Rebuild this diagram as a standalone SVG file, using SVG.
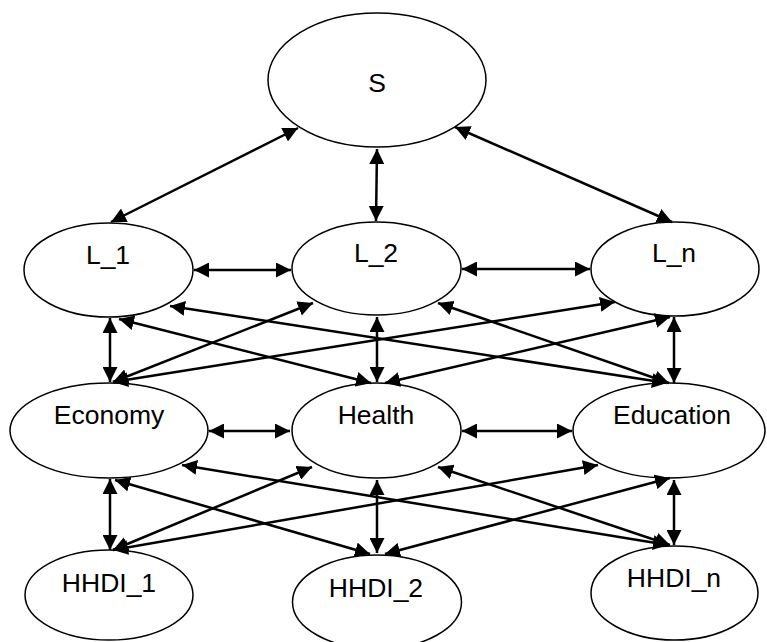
<svg xmlns="http://www.w3.org/2000/svg" width="767" height="642" viewBox="0 0 767 642">
<style>
.n ellipse{fill:#fff;stroke:#000;stroke-width:1.5}
.n text{font-family:"Liberation Sans",Arial,sans-serif;font-size:26.5px;fill:#000;text-anchor:middle}
#edges line{stroke:#000;stroke-width:2.5;marker-start:url(#ah);marker-end:url(#ah)}
</style>
<defs>
<marker id="ah" markerUnits="userSpaceOnUse" markerWidth="16" markerHeight="15" refX="15" refY="7.5" orient="auto-start-reverse" viewBox="0 0 16 15">
<path d="M0,0 L15,7.5 L0,15 z" fill="#000"/>
</marker>
</defs>
<rect width="767" height="642" fill="#fff"/>
<g class="n" id="S"><ellipse cx="377" cy="80" rx="109" ry="67"/><text x="377" y="92">S</text></g>
<g class="n" id="L_1"><ellipse cx="108.5" cy="270" rx="84.5" ry="47"/><text x="108" y="264">L_1</text></g>
<g class="n" id="L_2"><ellipse cx="376.5" cy="268.5" rx="84.5" ry="46.5"/><text x="376" y="262">L_2</text></g>
<g class="n" id="L_n"><ellipse cx="675" cy="269" rx="84" ry="47"/><text x="674" y="262">L_n</text></g>
<g class="n" id="Economy"><ellipse cx="109" cy="430.5" rx="99" ry="47.5"/><text x="109" y="424">Economy</text></g>
<g class="n" id="Health"><ellipse cx="376.5" cy="430.5" rx="84.5" ry="47.5"/><text x="376" y="424">Health</text></g>
<g class="n" id="Education"><ellipse cx="669" cy="430.5" rx="96" ry="47.5"/><text x="672" y="424">Education</text></g>
<g class="n" id="HHDI_1"><ellipse cx="109" cy="595" rx="84" ry="45"/><text x="109" y="592">HHDI_1</text></g>
<g class="n" id="HHDI_2"><ellipse cx="377" cy="602" rx="84.5" ry="47"/><text x="376" y="597">HHDI_2</text></g>
<g class="n" id="HHDI_n"><ellipse cx="674.5" cy="593" rx="83.5" ry="47"/><text x="674" y="587">HHDI_n</text></g>
<g id="edges">
<line x1="298" y1="128" x2="111" y2="222"/>
<line x1="377" y1="149" x2="376" y2="221"/>
<line x1="455" y1="127" x2="672" y2="222"/>
<line x1="194" y1="270" x2="291" y2="270"/>
<line x1="462" y1="269" x2="590" y2="269"/>
<line x1="110" y1="318" x2="110" y2="382"/>
<line x1="377" y1="317" x2="377" y2="382"/>
<line x1="674" y1="317" x2="674" y2="383"/>
<line x1="170" y1="306" x2="667" y2="383"/>
<line x1="119" y1="319" x2="371" y2="383"/>
<line x1="313" y1="303" x2="113" y2="382"/>
<line x1="438" y1="303" x2="669" y2="383"/>
<line x1="615" y1="302" x2="113" y2="382"/>
<line x1="670" y1="317" x2="385" y2="383"/>
<line x1="209" y1="431" x2="290" y2="431"/>
<line x1="462" y1="431" x2="572" y2="431"/>
<line x1="110" y1="479" x2="110" y2="550"/>
<line x1="377" y1="480" x2="377" y2="553"/>
<line x1="674" y1="480" x2="674" y2="545"/>
<line x1="182" y1="465" x2="668" y2="545"/>
<line x1="115" y1="480" x2="370" y2="554"/>
<line x1="312" y1="467" x2="113" y2="550"/>
<line x1="438" y1="467" x2="670" y2="545"/>
<line x1="598" y1="465" x2="113" y2="550"/>
<line x1="670" y1="478" x2="385" y2="554"/>
</g>
</svg>
